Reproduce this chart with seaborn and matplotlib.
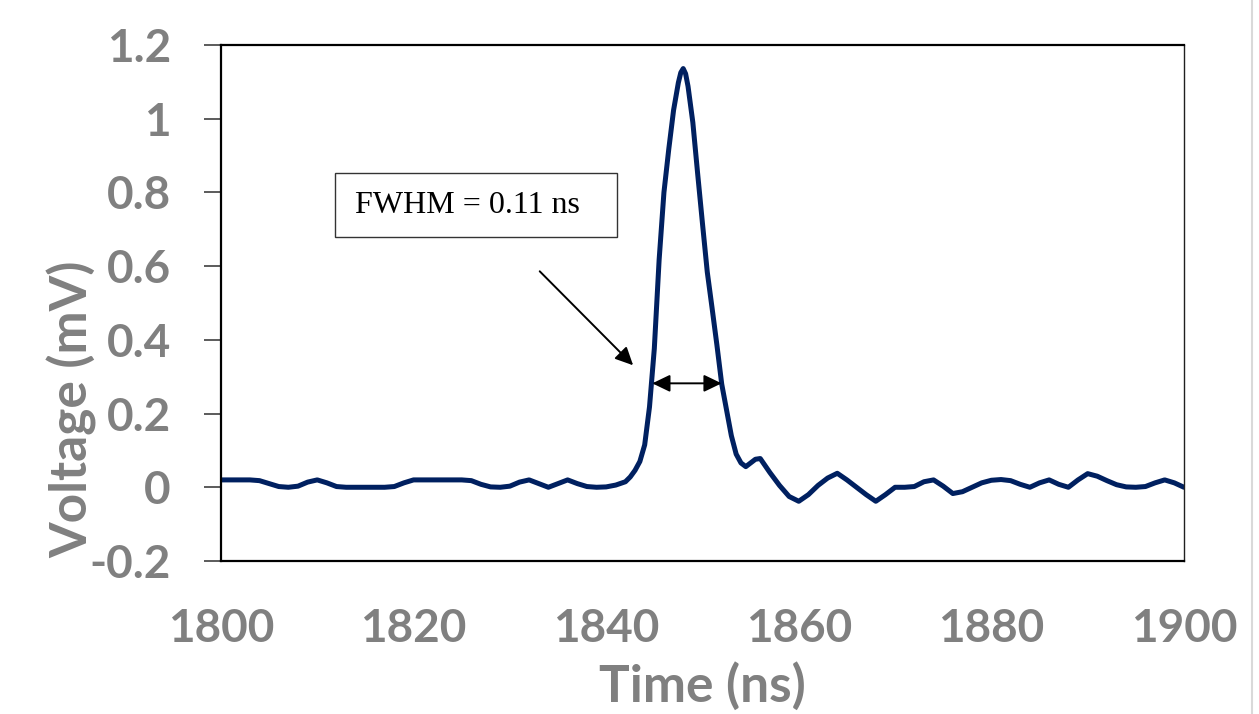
import matplotlib
matplotlib.use("Agg")
import matplotlib.pyplot as plt
import seaborn as sns
from matplotlib.patches import Rectangle
from matplotlib.lines import Line2D

# values
time_ns = [
    1800, 1801, 1802, 1803, 1804, 1805, 1806, 1807, 1808, 1809,
    1810, 1811, 1812, 1813, 1814, 1815, 1816, 1817, 1818, 1819,
    1820, 1821, 1822, 1823, 1824, 1825, 1826, 1827, 1828, 1829,
    1830, 1831, 1832, 1833, 1834, 1835, 1836, 1837, 1838, 1839,
    1840, 1841, 1842, 1842.5, 1843, 1843.5, 1844, 1844.5, 1845, 1845.5,
    1846, 1846.5, 1847, 1847.5, 1847.75, 1848, 1848.25, 1848.5, 1849, 1849.5,
    1850, 1850.5, 1851, 1851.5, 1852, 1852.5, 1853, 1853.5, 1854, 1854.5,
    1855, 1855.5, 1856, 1857, 1858, 1859,
    1860, 1861, 1862, 1863, 1864, 1865, 1866, 1867, 1868, 1869,
    1870, 1871, 1872, 1873, 1874, 1875, 1876, 1877, 1878, 1879,
    1880, 1881, 1882, 1883, 1884, 1885, 1886, 1887, 1888, 1889,
    1890, 1891, 1892, 1893, 1894, 1895, 1896, 1897, 1898, 1899,
    1900,
]
voltage_mv = [
    0.020, 0.020, 0.020, 0.020, 0.018, 0.010, 0.002, 0.000, 0.003, 0.014,
    0.020, 0.012, 0.002, 0.000, 0.000, 0.000, 0.000, 0.000, 0.002, 0.012,
    0.020, 0.020, 0.020, 0.020, 0.020, 0.020, 0.018, 0.008, 0.001, 0.000,
    0.003, 0.014, 0.020, 0.010, 0.000, 0.010, 0.020, 0.010, 0.002, 0.000,
    0.001, 0.006, 0.015, 0.028, 0.046, 0.070, 0.115, 0.218, 0.376, 0.617,
    0.800, 0.917, 1.023, 1.098, 1.125, 1.136, 1.122, 1.088, 0.990, 0.851,
    0.716, 0.584, 0.486, 0.386, 0.280, 0.210, 0.140, 0.090, 0.066, 0.056,
    0.066, 0.076, 0.078, 0.040, 0.005, -0.025,
    -0.038, -0.020, 0.005, 0.025, 0.038, 0.020, 0.000, -0.020, -0.038, -0.020,
    0.000, 0.000, 0.002, 0.015, 0.020, 0.003, -0.017, -0.012, 0.000, 0.012,
    0.019, 0.021, 0.018, 0.008, 0.000, 0.012, 0.020, 0.008, 0.000, 0.020,
    0.037, 0.030, 0.018, 0.007, 0.001, 0.000, 0.002, 0.012, 0.020, 0.012,
    0.000,
]

x_ticks = [1800, 1820, 1840, 1860, 1880, 1900]
y_ticks = [-0.2, 0, 0.2, 0.4, 0.6, 0.8, 1.0, 1.2]
y_tick_labels = ["-0.2", "0", "0.2", "0.4", "0.6", "0.8", "1", "1.2"]

fwhm_label = "FWHM = 0.11 ns"
fwhm_left, fwhm_right, fwhm_level = 1844.79, 1851.99, 0.282

LINE_COLOR = "#002060"
LABEL_GRAY = "#808080"

sns.set_theme(style="white")
plt.rcParams["font.family"] = ["Lato", "DejaVu Sans"]

fig = plt.figure(figsize=(12.59, 7.14), dpi=100)
ax = fig.add_axes([0.1755, 0.2143, 0.7649, 0.7227])

sns.lineplot(x=time_ns, y=voltage_mv, color=LINE_COLOR, linewidth=3.6, ax=ax)

ax.set_xlim(1800, 1900)
ax.set_ylim(-0.2, 1.2)
ax.set_xticks(x_ticks)
ax.set_xticklabels([str(t) for t in x_ticks])
ax.set_yticks(y_ticks)
ax.set_yticklabels(y_tick_labels)

ax.tick_params(axis="y", left=True, direction="out", length=12, width=1.2,
               color="#404040", pad=24, labelsize=33, labelcolor=LABEL_GRAY)
ax.tick_params(axis="x", bottom=False, length=0, pad=34, labelsize=33,
               labelcolor=LABEL_GRAY)
for lab in ax.get_xticklabels() + ax.get_yticklabels():
    lab.set_fontweight("bold")

for side in ["left", "bottom", "top"]:
    ax.spines[side].set_color("black")
    ax.spines[side].set_linewidth(1.6)
ax.spines["right"].set_color("#202020")
ax.spines["right"].set_linewidth(1.0)

ax.set_xlabel("Time (ns)", fontsize=37, fontweight="bold", color=LABEL_GRAY)
ax.set_ylabel("Voltage (mV)", fontsize=37, fontweight="bold", color=LABEL_GRAY)
ax.xaxis.set_label_coords(0.4995, -0.196)
ax.yaxis.set_label_coords(-0.128, 0.293)

# annotation box + arrows
ax.add_patch(Rectangle((1811.84, 0.678), 29.28, 0.174, fill=False,
                       edgecolor="#333333", linewidth=1.0, zorder=3))
ax.text(1813.9, 0.765, fwhm_label, fontsize=23, va="center", ha="left",
        family=["Liberation Serif", "DejaVu Serif"], color="black", zorder=4)
ax.annotate("", xy=(1842.8, 0.331), xytext=(1833.1, 0.586),
            arrowprops=dict(arrowstyle="-|>,head_length=0.54,head_width=0.26",
                            mutation_scale=20, color="black", lw=1.4,
                            shrinkA=0, shrinkB=0))
ax.annotate("", xy=(fwhm_left, fwhm_level), xytext=(fwhm_right, fwhm_level),
            arrowprops=dict(arrowstyle="<|-|>,head_length=0.54,head_width=0.26",
                            mutation_scale=20, color="black", lw=1.4,
                            shrinkA=0, shrinkB=0))

# faint page edge on the right of the source image
fig.add_artist(Line2D([0.9948, 0.9948], [0, 1], transform=fig.transFigure,
                      color="#d9d9d9", linewidth=1.5))

fig.savefig("out.png", dpi=100)
